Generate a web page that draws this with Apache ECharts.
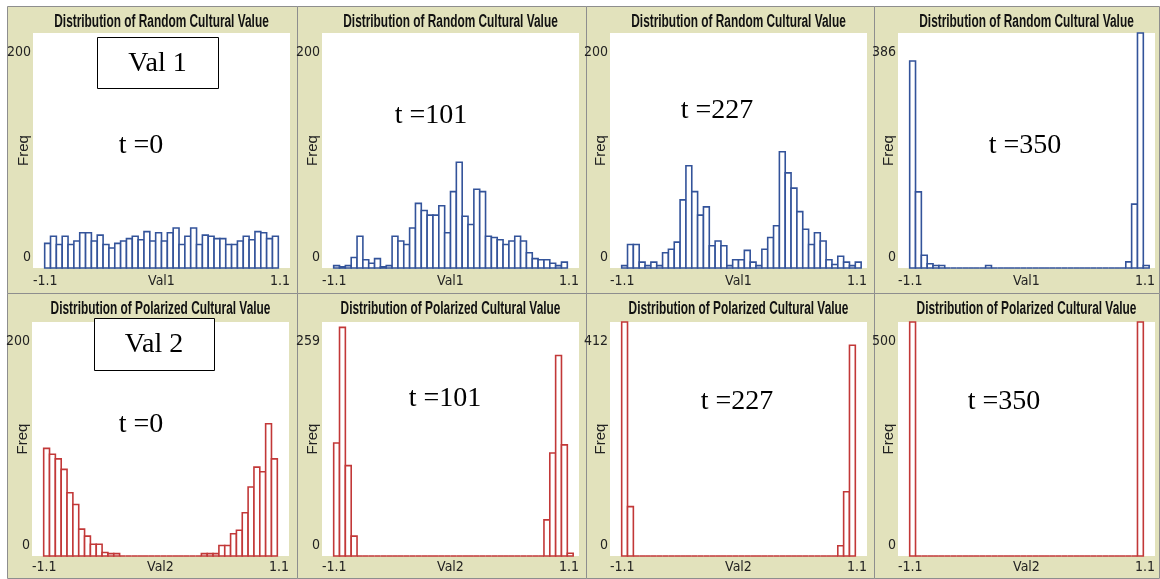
<!DOCTYPE html>
<html><head><meta charset="utf-8">
<script src="https://cdn.jsdelivr.net/npm/echarts@6/dist/echarts.min.js"></script>
<style>html,body{margin:0;padding:0;background:#fff}#c{width:1160px;height:579px}</style>
</head><body><div id="c"></div>
<script>
// ---- data (bin counts, bins of width 0.05 starting at -1.0) ----
const binStart = -1.0;
const binWidth = 0.05;
const val1_t0   = [21,27,20,27,20,23,30,30,23,28,20,17,21,23,25,27,24,31,23,30,23,30,34,20,27,34,20,28,27,25,25,20,20,23,27,24,31,30,25,27];
const val1_t101 = [2,1,2,9,27,7,4,8,1,2,27,23,20,34,55,49,45,45,53,30,65,90,44,37,67,65,27,26,24,20,23,27,23,13,8,7,7,4,2,5];
const val1_t227 = [2,20,20,5,2,5,2,13,16,22,58,87,65,45,52,19,23,19,2,7,7,15,5,2,16,26,36,99,81,68,48,33,20,30,23,7,3,10,5,2,5];
const val1_t350 = [340,125,21,7,4,4,0,0,0,0,0,0,0,4,0,0,0,0,0,0,0,0,0,0,0,0,0,0,0,0,0,0,0,0,0,0,0,10,105,386,4];
const val2_t0   = [92,87,83,74,54,44,23,17,10,10,3,2,2,0,0,0,0,0,0,0,0,0,0,0,0,0,0,2,2,2,9,9,19,22,37,59,76,72,113,83];
const val2_t101 = [125,253,100,22,0,0,0,0,0,0,0,0,0,0,0,0,0,0,0,0,0,0,0,0,0,0,0,0,0,0,0,0,0,0,0,0,40,114,222,123,3];
const val2_t227 = [412,87,0,0,0,0,0,0,0,0,0,0,0,0,0,0,0,0,0,0,0,0,0,0,0,0,0,0,0,0,0,0,0,0,0,0,0,18,113,371];
const val2_t350 = [500,0,0,0,0,0,0,0,0,0,0,0,0,0,0,0,0,0,0,0,0,0,0,0,0,0,0,0,0,0,0,0,0,0,0,0,0,0,0,500];
const yMaxes = [200,200,200,386, 200,259,412,500];
const xRange = [-1.1, 1.1];
const xTickLabels = ['-1.1','1.1'];
const panelTitles = ['Distribution of Random Cultural Value','Distribution of Polarized Cultural Value'];
const xNames = ['Val1','Val2'];
const yName = 'Freq';
const timeLabels = ['t =0','t =101','t =227','t =350'];
const rowLabels = ['Val 1','Val 2'];

// ---- layout ----
const series = [val1_t0,val1_t101,val1_t227,val1_t350,val2_t0,val2_t101,val2_t227,val2_t350];
const canvasLeft = [[33,322,610,898],[32,322,610,898]];
const canvasTop = [33,322], canvasH = [235,234], canvasW = 257;
const labelMargin = [6,4];
const panelX = [7,297,586,874], panelW = [290,289,288,285];
const panelY = [6,293], panelH = [287,285];
const titleY = [22,309];
const tPos = [[[141,146],[431,116],[717,111],[1025,146]],[[141,425],[445,399],[737,402],[1004,402]]];
const boxes = [[97,37,121,51],[94,318,120,52]];
const colors = ['#33539a','#c23838'];
const khaki = '#e2e2bc';
const netFont = "'Liberation Sans Narrow','DejaVu Sans Condensed','Arial Narrow',sans-serif";
const serif = "'Liberation Serif','Times New Roman',serif";
const labelSize = 14;

const grids=[], xAxes=[], yAxes=[], seriesOpt=[], graphics=[];
for (let r=0;r<2;r++){
  for (let c=0;c<4;c++){
    graphics.push({type:'rect', z:-3, shape:{x:panelX[c]+0.5,y:panelY[r]+0.5,width:panelW[c],height:panelH[r]},
      style:{fill:khaki, stroke:'#8e8e8e', lineWidth:1}});
    graphics.push({type:'rect', z:-2, shape:{x:canvasLeft[r][c],y:canvasTop[r],width:canvasW,height:canvasH[r]},
      style:{fill:'#fff'}});
    graphics.push({type:'text', z:5, x:canvasLeft[r][c]+canvasW/2, y:titleY[r], scaleX:0.66,
      style:{text:panelTitles[r], x:0, y:0, align:'center', verticalAlign:'middle', textAlign:'center', textVerticalAlign:'middle',
        font:"bold 18px 'Liberation Sans',Arial,sans-serif", fill:'#111'}});
    graphics.push({type:'text', z:10, x:tPos[r][c][0], y:tPos[r][c][1],
      style:{text:timeLabels[c], x:0, y:0, align:'center', verticalAlign:'middle', textAlign:'center', textVerticalAlign:'middle',
        font:"28px "+serif, fill:'#000'}});
  }
  const b=boxes[r];
  graphics.push({type:'rect', z:9, shape:{x:b[0]+0.5,y:b[1]+0.5,width:b[2],height:b[3]}, style:{fill:'#fff',stroke:'#000',lineWidth:1}});
  graphics.push({type:'text', z:10, x:b[0]+b[2]/2, y:b[1]+b[3]/2+1,
    style:{text:rowLabels[r], x:0,y:0, align:'center', verticalAlign:'middle', textAlign:'center', textVerticalAlign:'middle', font:"28px "+serif, fill:'#000'}});
}

function renderItem(params, api){
  const x0=api.value(0), x1=api.value(1), v=api.value(2);
  const p0=api.coord([x0,v]), p1=api.coord([x1,0]);
  return {type:'rect', shape:{x:p0[0], y:p0[1], width:p1[0]-p0[0], height:p1[1]-p0[1]},
    style:{fill:'#fff', stroke:colors[params.seriesIndex<4?0:1], lineWidth:1.6}};
}

for (let i=0;i<8;i++){
  const r=Math.floor(i/4), c=i%4;
  grids.push({left:canvasLeft[r][c], top:canvasTop[r], width:canvasW, height:canvasH[r], show:false,
    containLabel:false, outerBoundsMode:'none'});
  xAxes.push({gridIndex:i, type:'value', min:xRange[0], max:xRange[1],
    axisLine:{show:false}, axisTick:{show:false}, splitLine:{show:false},
    axisLabel:{customValues:xRange, formatter:(v)=> v<0?xTickLabels[0]:xTickLabels[1], alignMinLabel:'left', alignMaxLabel:'right',
      margin:labelMargin[r], fontFamily:netFont, fontSize:labelSize, color:'#222'},
    name:xNames[r], nameLocation:'middle', nameGap:labelMargin[r], nameMoveOverlap:false,
    nameTextStyle:{fontFamily:netFont, fontSize:labelSize, color:'#222', verticalAlign:'top'}});
  const ym=yMaxes[i];
  yAxes.push({gridIndex:i, type:'value', min:0, max:ym,
    axisLine:{show:false}, axisTick:{show:false}, splitLine:{show:false},
    axisLabel:{customValues:[0,ym], margin:2, fontFamily:netFont, fontSize:labelSize, color:'#222',
      formatter:(v)=> v===0?'{b|0}':'{t|'+v+'}',
      rich:{t:{padding:[38,0,0,0],fontFamily:netFont,fontSize:labelSize,color:'#222'}, b:{padding:[0,0,22,0],fontFamily:netFont,fontSize:labelSize,color:'#222'}}},
    name:yName, nameLocation:'middle', nameRotate:90, nameGap:2, nameMoveOverlap:false,
    nameTextStyle:{fontFamily:"'Liberation Sans',Arial,sans-serif", fontSize:15, color:'#222'}});
  const data=series[i].map((v,k)=>[binStart+k*binWidth, binStart+(k+1)*binWidth, v]);
  seriesOpt.push({type:'custom', xAxisIndex:i, yAxisIndex:i, data, encode:{x:[0,1], y:2}, renderItem, clip:false, silent:true});
}

const chart=echarts.init(document.getElementById('c'), null, {renderer:'canvas'});
chart.setOption({animation:false, backgroundColor:'#fff', grid:grids, xAxis:xAxes, yAxis:yAxes, series:seriesOpt, graphic:{elements:graphics}});
</script></body></html>
